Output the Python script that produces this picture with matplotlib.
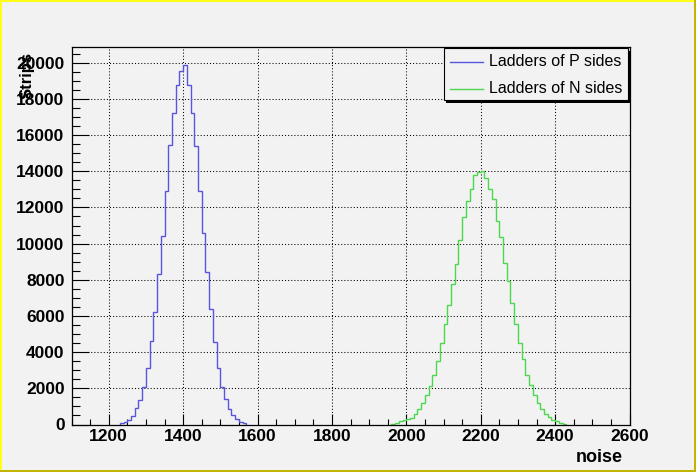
import numpy as np
import matplotlib
matplotlib.use("Agg")
import matplotlib.pyplot as plt
from matplotlib.patches import Rectangle
from matplotlib.lines import Line2D
from matplotlib.ticker import MultipleLocator

# ---- data ----
bin_width = 10
p_first_edge = 1230
p_counts = [74, 165, 276, 496, 900, 1341, 2077, 3143, 4613, 6231, 8326, 10421,
            12903, 15440, 17204, 18748, 19520, 19850, 18748, 17204, 15402, 12903,
            10587, 8418, 6396, 4540, 3143, 2077, 1397, 845, 515, 294, 165, 74]
n_first_edge = 1960
n_counts = [37, 110, 184, 240, 295, 368, 608, 884, 1216, 1658, 2155, 2763, 3537,
            4513, 5563, 6631, 7792, 8878, 10223, 11494, 12341, 13041, 13778, 13962,
            14000, 13650, 13041, 12452, 11236, 10352, 8952, 7921, 6705, 5581, 4531,
            3610, 2763, 2210, 1621, 1216, 884, 608, 387, 276, 203, 110, 37]
series_labels = ["Ladders of P sides", "Ladders of N sides"]
x_label = "noise"
y_label = "Strips"

W, H = 696, 472
bg = "#f2f2f2"
blue = "#5656e0"
green = "#4cd84c"

def fx(x):
    return x / W

def fy(y):
    return 1 - y / H

fig = plt.figure(figsize=(W / 100, H / 100), dpi=100, facecolor=bg)
L, R, T, B = 71.5, 629.5, 47, 424.5
ax = fig.add_axes([fx(L), fy(B), (R - L) / W, (B - T) / H])
ax.set_facecolor(bg)

p_edges = p_first_edge + bin_width * np.arange(len(p_counts) + 1)
n_edges = n_first_edge + bin_width * np.arange(len(n_counts) + 1)
ax.stairs(p_counts, p_edges, color=blue, linewidth=1.0, baseline=0, zorder=3)
ax.stairs(n_counts, n_edges, color=green, linewidth=1.0, baseline=0, zorder=3)

ax.set_xlim(1100, 2600)
ax.set_ylim(0, 20870)
ax.xaxis.set_major_locator(MultipleLocator(200))
ax.xaxis.set_minor_locator(MultipleLocator(50))
ax.yaxis.set_major_locator(MultipleLocator(2000))
ax.yaxis.set_minor_locator(MultipleLocator(500))

ax.tick_params(axis="x", which="major", direction="in", length=8, width=0.8,
               pad=3.5, top=False)
ax.tick_params(axis="x", which="minor", direction="in", length=4, width=0.8, top=False)
ax.tick_params(axis="y", which="major", direction="in", length=12.5, width=0.8,
               pad=5, right=False)
ax.tick_params(axis="y", which="minor", direction="in", length=6, width=0.8, right=False)
for lab in ax.get_xticklabels() + ax.get_yticklabels():
    lab.set_fontfamily("Liberation Sans")
    lab.set_fontweight("bold")
    lab.set_fontsize(12.5)

ax.grid(True, which="major", color="black", linestyle=(0, (1, 2)), linewidth=0.75)
ax.set_axisbelow(True)
for s in ax.spines.values():
    s.set_linewidth(0.9)
    s.set_zorder(4)

# axis titles (ROOT style placement)
fig.text(fx(623), fy(457), x_label, ha="right", va="center", fontsize=13,
         fontweight="bold", family="Liberation Sans")
fig.text(fx(27), fy(52), y_label, ha="center", va="top", rotation=90, fontsize=12,
         fontweight="bold", family="Liberation Sans")

# legend box with shadow
lx0, ly0, lx1, ly1 = 443.5, 47.5, 627.5, 100
sh = 3
fig.patches.append(Rectangle((fx(lx0 + sh), fy(ly1 + sh)), (lx1 - lx0) / W, (ly1 - ly0) / H,
                             transform=fig.transFigure, facecolor="black", edgecolor="none",
                             zorder=5))
fig.patches.append(Rectangle((fx(lx0), fy(ly1)), (lx1 - lx0) / W, (ly1 - ly0) / H,
                             transform=fig.transFigure, facecolor=bg, edgecolor="black",
                             linewidth=0.8, zorder=6))
for i, (lab, col) in enumerate(zip(series_labels, [blue, green])):
    yy = 62 + i * 26.5
    fig.lines.append(Line2D([fx(450), fx(482.5)], [fy(yy), fy(yy)], transform=fig.transFigure,
                            color=col, linewidth=1.0, zorder=7))
    fig.text(fx(489), fy(yy), lab, ha="left", va="center", fontsize=11.5,
             family="Liberation Sans", zorder=7)

# canvas bevel border
fig.patches.append(Rectangle((0, 0), 1, 2 / H, transform=fig.transFigure,
                             facecolor="#c2b400", edgecolor="none", zorder=10))
fig.patches.append(Rectangle((1 - 2 / W, 0), 2 / W, 1, transform=fig.transFigure,
                             facecolor="#c2b400", edgecolor="none", zorder=10))
fig.patches.append(Rectangle((0, 1 - 2 / H), 1 - 2 / W, 2 / H, transform=fig.transFigure,
                             facecolor="#ffff1a", edgecolor="none", zorder=11))
fig.patches.append(Rectangle((0, 2 / H), 2 / W, 1 - 2 / H, transform=fig.transFigure,
                             facecolor="#ffff1a", edgecolor="none", zorder=11))

fig.savefig("out.png", dpi=100, facecolor=bg)
